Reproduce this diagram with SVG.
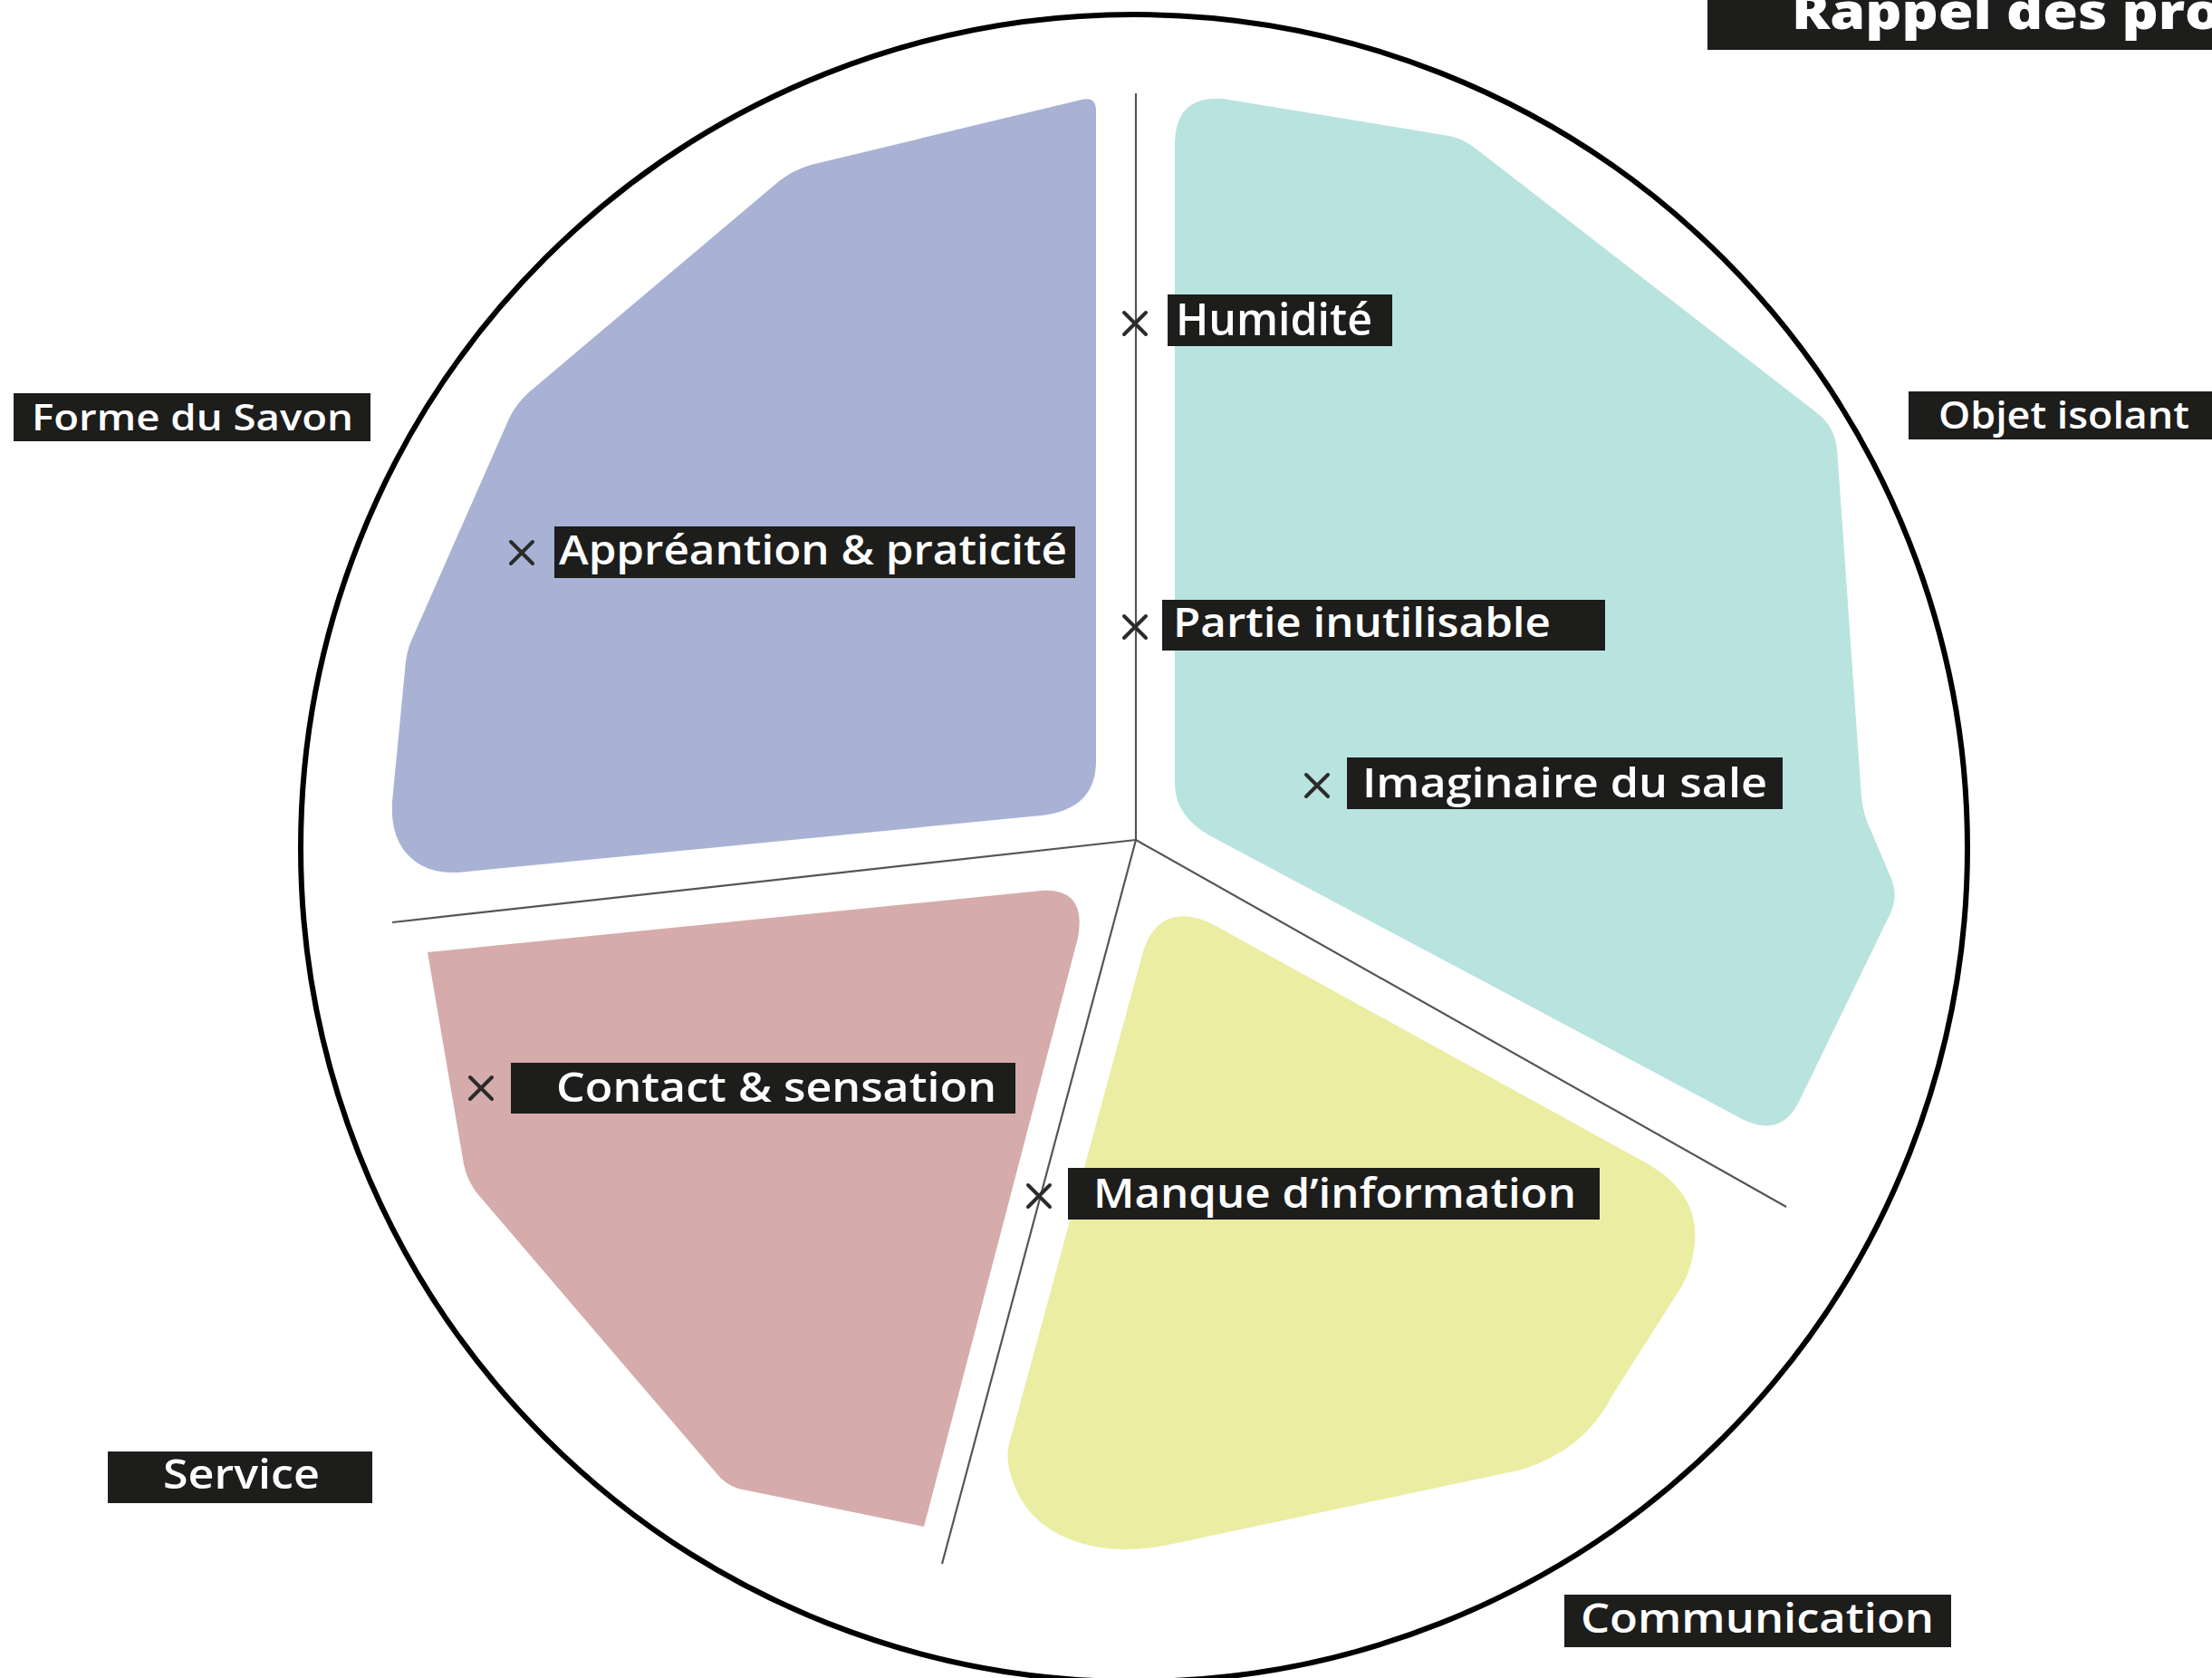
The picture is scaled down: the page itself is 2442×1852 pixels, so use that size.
<svg xmlns="http://www.w3.org/2000/svg" width="2442" height="1852" viewBox="0 0 2442 1852">
<defs>
<style>
.lbl{fill:#1d1d1b}
.t{font-family:"Open Sans","Liberation Sans",sans-serif;font-weight:600;fill:#ffffff}
.x{stroke:#2b2b2b;stroke-width:4;stroke-linecap:round;fill:none}
.sep{stroke:#555555;stroke-width:2.2;fill:none}
</style>
</defs>
<rect x="0" y="0" width="2442" height="1852" fill="#ffffff"/>
<circle cx="1252" cy="936" r="920" fill="none" stroke="#000000" stroke-width="6"/>

<g id="zone-forme">
<path d="M1210 122 Q1210 106 1194 110 L895 182 Q875 188 860 200 L585 432 Q570 445 562 462 L455 705 Q448 720 447 740 L433 885 Q430 935 465 955 Q485 966 515 962 L1150 900 Q1210 893 1210 840 Z" fill="#a9b2d4"/>
</g>
<g id="zone-objet">
<path d="M1297 160 Q1297 105 1350 109 L1600 150 Q1615 153 1628 163 L2005 455 Q2025 470 2028 495 L2055 880 Q2057 900 2066 918 L2088 970 Q2096 990 2086 1010 L1985 1218 Q1965 1255 1925 1236 L1335 922 Q1297 900 1297 865 Z" fill="#b9e3df"/>
</g>
<g id="zone-service">
<path d="M472 1051 L1150 983 Q1200 980 1190 1035 L1020 1685 L815 1643 Q800 1638 790 1625 L525 1315 Q515 1300 512 1285 Z" fill="#d5acab"/>
</g>
<g id="zone-communication">
<path d="M1262 1050 Q1280 995 1335 1018 L1820 1285 Q1880 1320 1870 1380 Q1865 1410 1850 1430 L1780 1540 Q1750 1600 1680 1622 L1290 1705 Q1240 1715 1200 1705 Q1140 1690 1120 1640 Q1108 1610 1115 1590 Z" fill="#ebeda2"/>
</g>

<g id="connectors">
<line class="sep" x1="1254" y1="927" x2="1254" y2="103"/>
<line class="sep" x1="1254" y1="927" x2="433" y2="1018"/>
<line class="sep" x1="1254" y1="927" x2="1040" y2="1726"/>
<line class="sep" x1="1254" y1="927" x2="1972" y2="1332"/>
</g>

<g id="title">
<rect class="lbl" x="1885" y="0" width="557" height="55" fill="#000000"/>
<text x="1978" y="32" font-family="'Open Sans','Liberation Sans',sans-serif" font-weight="800" font-size="54" fill="#ffffff" textLength="474" lengthAdjust="spacingAndGlyphs">Rappel des pro</text>
</g>

<g id="label-forme">
<rect class="lbl" x="15" y="434" width="394" height="53"/>
<text class="t" x="35" y="475" font-size="40" textLength="355" lengthAdjust="spacingAndGlyphs">Forme du Savon</text>
</g>
<g id="label-objet">
<rect class="lbl" x="2107" y="432" width="340" height="53"/>
<text class="t" x="2140" y="473" font-size="42" textLength="277" lengthAdjust="spacingAndGlyphs">Objet isolant</text>
</g>
<g id="label-service">
<rect class="lbl" x="119" y="1602" width="292" height="57"/>
<text class="t" x="180" y="1643" font-size="46" textLength="173" lengthAdjust="spacingAndGlyphs">Service</text>
</g>
<g id="label-communication">
<rect class="lbl" x="1727" y="1760" width="427" height="58"/>
<text class="t" x="1745" y="1802" font-size="45" textLength="390" lengthAdjust="spacingAndGlyphs">Communication</text>
</g>

<g id="item-humidite">
<path class="x" d="M1241 345 L1265 369 M1265 345 L1241 369"/>
<rect class="lbl" x="1289" y="325" width="248" height="57"/>
<text class="t" x="1298" y="370" font-size="48" textLength="217" lengthAdjust="spacingAndGlyphs">Humidité</text>
</g>
<g id="item-appreantion">
<path class="x" d="M564 598 L588 622 M588 598 L564 622"/>
<rect class="lbl" x="612" y="581" width="575" height="57"/>
<text class="t" x="617" y="623" font-size="46" textLength="561" lengthAdjust="spacingAndGlyphs">Appréantion &amp; praticité</text>
</g>
<g id="item-partie">
<path class="x" d="M1241 680 L1265 704 M1265 680 L1241 704"/>
<rect class="lbl" x="1283" y="662" width="489" height="56"/>
<text class="t" x="1295" y="703" font-size="46" textLength="417" lengthAdjust="spacingAndGlyphs">Partie inutilisable</text>
</g>
<g id="item-imaginaire">
<path class="x" d="M1442 855 L1466 879 M1466 855 L1442 879"/>
<rect class="lbl" x="1487" y="836" width="481" height="57"/>
<text class="t" x="1504" y="880" font-size="46" textLength="447" lengthAdjust="spacingAndGlyphs">Imaginaire du sale</text>
</g>
<g id="item-contact">
<path class="x" d="M519 1189 L543 1213 M543 1189 L519 1213"/>
<rect class="lbl" x="564" y="1173" width="557" height="56"/>
<text class="t" x="614" y="1216" font-size="46" textLength="486" lengthAdjust="spacingAndGlyphs">Contact &amp; sensation</text>
</g>
<g id="item-manque">
<path class="x" d="M1135 1308 L1159 1332 M1159 1308 L1135 1332"/>
<rect class="lbl" x="1179" y="1289" width="587" height="57"/>
<text class="t" x="1207" y="1333" font-size="46" textLength="533" lengthAdjust="spacingAndGlyphs">Manque d’information</text>
</g>
</svg>
